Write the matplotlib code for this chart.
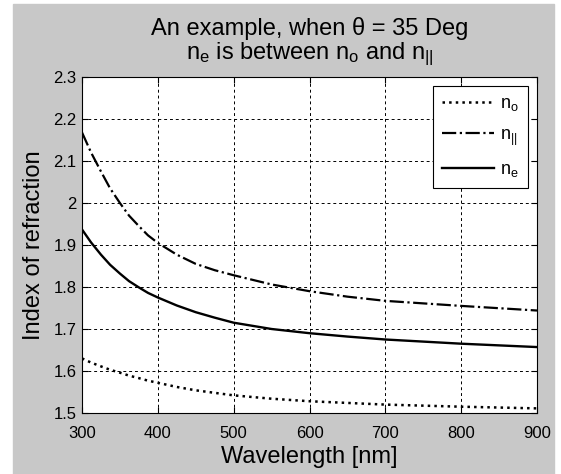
import numpy as np
import matplotlib
matplotlib.use('Agg')
import matplotlib.pyplot as plt
from matplotlib.patches import Rectangle

plt.rcParams['font.family'] = ['Liberation Sans', 'DejaVu Sans']
plt.rcParams['mathtext.fontset'] = 'custom'
plt.rcParams['mathtext.rm'] = 'Liberation Sans'

# values
wavelength = [300, 312, 325, 337, 350, 362, 375, 387, 400, 425, 450, 475, 500,
              550, 600, 650, 700, 800, 900]
n_o = [1.630, 1.620, 1.611, 1.603, 1.596, 1.589, 1.583, 1.577, 1.572, 1.562, 1.554, 1.548, 1.542,
       1.534, 1.528, 1.524, 1.520, 1.515, 1.511]
n_par = [2.168, 2.120, 2.075, 2.035, 2.000, 1.970, 1.945, 1.923, 1.905, 1.877, 1.855, 1.840, 1.828,
         1.806, 1.790, 1.777, 1.767, 1.755, 1.744]
n_e = [1.937, 1.906, 1.877, 1.853, 1.832, 1.814, 1.799, 1.786, 1.775, 1.756, 1.740, 1.727, 1.715,
       1.700, 1.690, 1.682, 1.675, 1.665, 1.657]

xticks = [300, 400, 500, 600, 700, 800, 900]
yticks = [1.5, 1.6, 1.7, 1.8, 1.9, 2.0, 2.1, 2.2, 2.3]
ytick_labels = ['1.5', '1.6', '1.7', '1.8', '1.9', '2', '2.1', '2.2', '2.3']

fig = plt.figure(figsize=(5.61, 4.74), dpi=100, facecolor='white')
# grey matlab-style figure background
fig.patches.append(Rectangle((13 / 561, 0), 541 / 561, 470 / 474,
                             transform=fig.transFigure, color='#c8c8c8', zorder=-10))
ax = fig.add_axes([82 / 561, 1 - 413 / 474, 455 / 561, 336 / 474])
ax.set_facecolor('white')

ax.plot(wavelength, n_o, color='black', linestyle=':', lw=1.8, label=r'$\mathregular{n_o}$')
ax.plot(wavelength, n_par, color='black', linestyle='-.', lw=1.6, label=r'$\mathregular{n_{||}}$')
ax.plot(wavelength, n_e, color='black', linestyle='-', lw=1.7, label=r'$\mathregular{n_e}$')

ax.set_xlim(300, 900)
ax.set_ylim(1.5, 2.3)
ax.set_xticks(xticks)
ax.set_yticks(yticks)
ax.set_yticklabels(ytick_labels)
ax.grid(True, color='black', linestyle=(0, (3, 3)), lw=0.7)
ax.tick_params(direction='in', length=4, width=0.8, top=True, right=True,
               labelsize=12, colors='black')
ax.tick_params(axis='x', pad=9)
ax.tick_params(axis='y', pad=4)
for s in ax.spines.values():
    s.set_linewidth(0.8)

ax.set_xlabel('Wavelength [nm]', fontsize=17, labelpad=4)
ax.set_ylabel('Index of refraction', fontsize=17, labelpad=6)
ax.set_title('An example, when \u03b8 = 35 Deg\n'
             r'$\mathregular{n_e}$ is between $\mathregular{n_o}$ and $\mathregular{n_{||}}$',
             fontsize=17, pad=13, linespacing=1.0)

leg = ax.legend(loc='upper right', fontsize=13, handlelength=2.9, labelspacing=0.75,
                fancybox=False, framealpha=1, edgecolor='black', borderaxespad=0.5,
                handletextpad=0.35, borderpad=0.5)
leg.get_frame().set_linewidth(0.8)

plt.savefig('out.png', dpi=100)
